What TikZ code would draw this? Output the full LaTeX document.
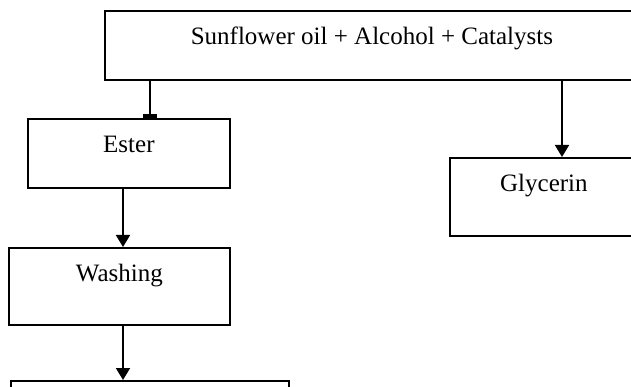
\documentclass[tikz,border=0pt]{standalone}
\usepackage{fontspec}
\setmainfont{Liberation Serif}
\usetikzlibrary{arrows.meta}
\tikzset{
  stage/.style={draw, line width=1.8pt, inner sep=0pt, anchor=north west,
    text height=34pt, text depth=#1, font=\fontsize{25}{30}\selectfont},
  stage/.default=35pt,
  flow/.style={line width=1.8pt, -{Triangle[length=12pt, width=14pt]}},
  stub/.style={line width=1.8pt, -{Rectangle[length=4pt, width=14pt]}}
}

\begin{document}
\begin{tikzpicture}[x=1pt, y=-1pt]
  \useasboundingbox[fill=white] (0,0) rectangle (631,387);
  \clip (0,0) rectangle (631,387);
  % Boxes
  \node[stage=35pt, minimum width=534pt] (feed) at (104,10) {Sunflower oil + Alcohol + Catalysts};
  \node[stage=35pt, minimum width=202pt] (ester) at (27,118) {Ester};
  \node[stage=44pt, minimum width=188pt] (glycerin) at (449,157) {Glycerin};
  \node[stage=43pt, minimum width=221pt] (washing) at (8,247) {Washing};
  \node[stage=36pt, minimum width=278pt] (next) at (10,380) {};
  % Stems
  \coordinate (stemA) at (150,0);
  \coordinate (stemB) at (562,0);
  \coordinate (stemC) at (123,0);
  \draw[stub] (feed.south -| stemA) -- (ester.north -| stemA);
  \draw[flow] (feed.south -| stemB) -- (glycerin.north -| stemB);
  \draw[flow] (ester.south -| stemC) -- (washing.north -| stemC);
  \draw[flow] (washing.south -| stemC) -- (next.north -| stemC);
\end{tikzpicture}
\end{document}
